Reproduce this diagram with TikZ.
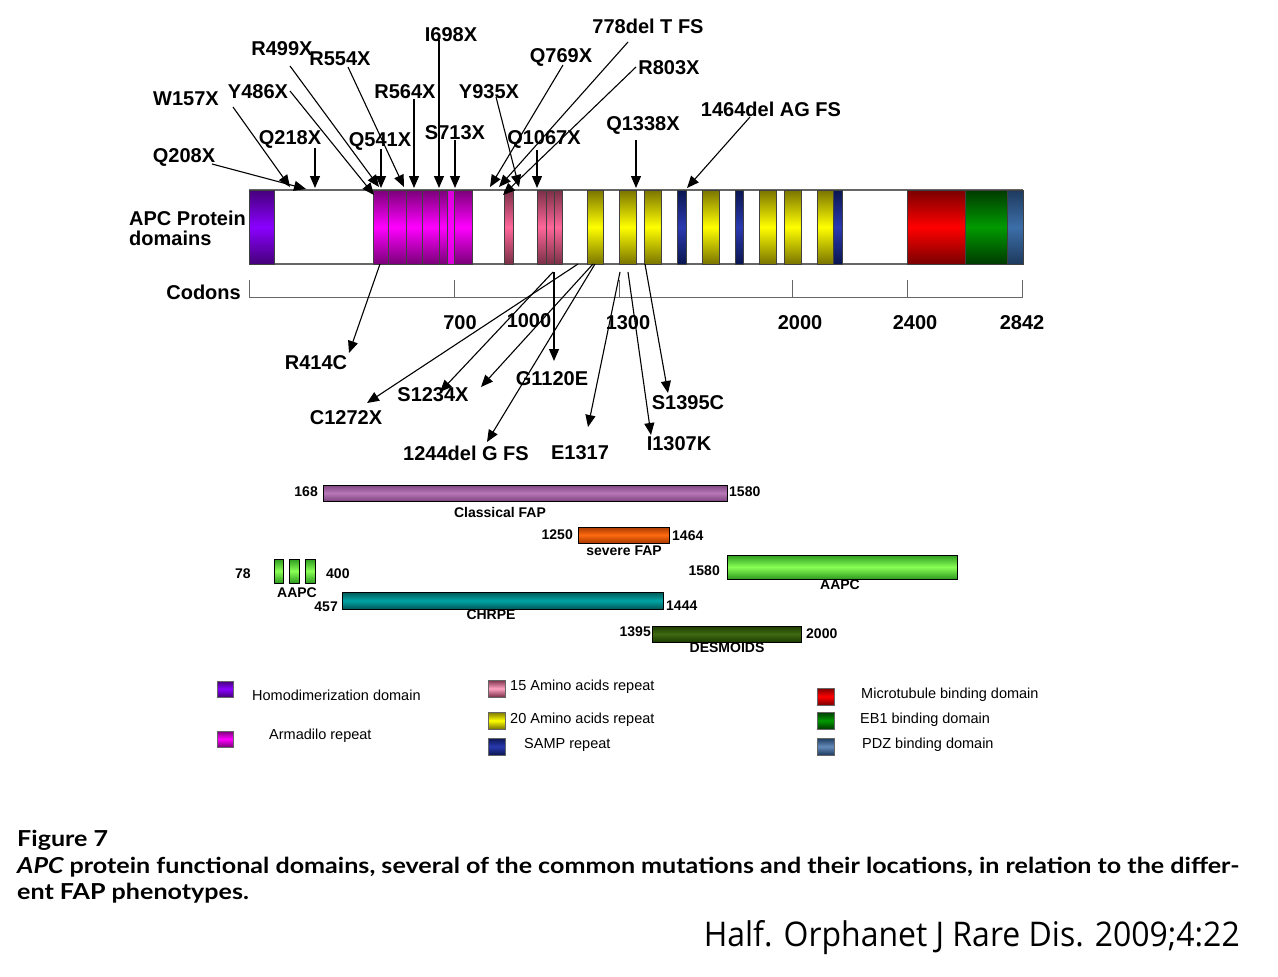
\documentclass[tikz,border=0pt]{standalone}
\usepackage{fontspec}
\setmainfont{Liberation Sans}
\newfontfamily\capfont[FakeStretch=1.14]{Lato}
\newfontfamily\citefont[FakeStretch=0.94]{Open Sans}
\usetikzlibrary{arrows.meta}
\definecolor{purpD}{HTML}{45007A}\definecolor{purpL}{HTML}{8A00FF}
\definecolor{magD}{HTML}{7A0078}\definecolor{magL}{HTML}{FF00FF}
\definecolor{pinkD}{HTML}{7A3048}\definecolor{pinkL}{HTML}{FF6699}
\definecolor{yelD}{HTML}{7A7400}\definecolor{yelL}{HTML}{FFFF00}
\definecolor{sampD}{HTML}{0A1650}\definecolor{sampL}{HTML}{2A3AB0}
\definecolor{redD}{HTML}{7A0000}\definecolor{redL}{HTML}{FF0000}
\definecolor{grnD}{HTML}{003A00}\definecolor{grnL}{HTML}{009A00}
\definecolor{pdzD}{HTML}{1E3A5E}\definecolor{pdzL}{HTML}{3C6EA8}
\definecolor{classD}{HTML}{7E4680}\definecolor{classL}{HTML}{B877B8}
\definecolor{sevD}{HTML}{A83A00}\definecolor{sevL}{HTML}{FF6A10}
\definecolor{aapcD}{HTML}{2E9A1E}\definecolor{aapcL}{HTML}{88FF55}
\definecolor{chrD}{HTML}{005858}\definecolor{chrL}{HTML}{00A4A4}
\definecolor{desD}{HTML}{1C3A00}\definecolor{desL}{HTML}{3F6A12}
\definecolor{barline}{HTML}{666666}
\begin{document}
\begin{tikzpicture}[x=1pt,y=-1pt,
  lab/.style={font=\bfseries\fontsize{20}{22}\selectfont, inner sep=0, anchor=center},
  sm/.style={font=\bfseries\fontsize{14}{16}\selectfont, inner sep=0},
  leg/.style={font=\fontsize{14.5}{16}\selectfont, inner sep=0, anchor=west},
  arr/.style={-{Triangle[length=12pt,width=10pt]}, line width=1.1pt, black},
  dom/.style 2 args={draw=black!75, line width=0.7pt, top color=#1, bottom color=#1, middle color=#2},
  fap/.style 2 args={draw=black, line width=0.8pt, top color=#1, bottom color=#1, middle color=#2},
  legsq/.style 2 args={draw=black!60, line width=0.6pt, top color=#1, bottom color=#1, middle color=#2},
  capt/.style={anchor=west, inner sep=0, font=\capfont\bfseries\fontsize{22}{26}\selectfont},
]
\useasboundingbox (0,0) rectangle (1278,977);
\fill[white] (0,0) rectangle (1278,977);

% ---------- protein bar ----------
\draw[barline, line width=1.2pt] (249,190) -- (1023,190);
\draw[barline, line width=1.2pt] (249,264) -- (1023,264);
\path[dom={purpD}{purpL}] (249,190) rectangle (274,264);
\foreach \a/\b in {373/388,388/406,406/422,422/439,439/447,454/472}
  \path[dom={magD}{magL}] (\a,190) rectangle (\b,264);
\path[dom={magL!85!black}{magL}] (447,190) rectangle (454,264);
\foreach \a/\b in {504/513,537/546,546/554,554/562}
  \path[dom={pinkD}{pinkL}] (\a,190) rectangle (\b,264);
\foreach \a/\b in {587/603,619/636,644/661,702/719,759/776,784/801,817/833}
  \path[dom={yelD}{yelL}] (\a,190) rectangle (\b,264);
\foreach \a/\b in {677/686,735/743,833/842}
  \path[dom={sampD}{sampL}] (\a,190) rectangle (\b,264);
\path[dom={redD}{redL}] (907,190) rectangle (965,264);
\path[dom={grnD}{grnL}] (965,190) rectangle (1007,264);
\path[dom={pdzD}{pdzL}] (1007,190) rectangle (1023,264);

\node[lab, anchor=west, align=left] (apclab) at (129,228) {APC Protein\\[-2pt]domains};

% ---------- codon scale ----------
\node[lab, anchor=east] (codons) at (241,292) {Codons};
\draw[barline, line width=1pt] (249,297) -- (1023,297);
\foreach \x in {249,454,619,792,907,1022}
  \draw[barline, line width=1pt] (\x,280) -- (\x,297);
\node[lab] (c700) at (460,323) {700};
\node[lab] (c1000) at (529,321) {1000};
\node[lab] (c1300) at (628,323) {1300};
\node[lab] (c2000) at (800,323) {2000};
\node[lab] (c2400) at (915,323) {2400};
\node[lab] (c2842) at (1022,323) {2842};

% ---------- top mutation labels ----------
\node[lab] (W157X) at (186,99) {W157X};
\node[lab] (Y486X) at (258,92) {Y486X};
\node[lab] (R499X) at (282,49) {R499X};
\node[lab] (R554X) at (340,59) {R554X};
\node[lab] (I698X) at (451,35) {I698X};
\node[lab] (R564X) at (405,92) {R564X};
\node[lab] (Y935X) at (489,92) {Y935X};
\node[lab] (Q769X) at (561,57) {Q769X};
\node[lab] (del778) at (648,26) {778del T FS};
\node[lab] (R803X) at (669,68) {R803X};
\node[lab] (Q208X) at (184,157) {Q208X};
\node[lab] (Q218X) at (290,139) {Q218X};
\node[lab] (Q541X) at (380,141) {Q541X};
\node[lab] (S713X) at (455,133) {S713X};
\node[lab] (Q1067X) at (544,139) {Q1067X};
\node[lab] (Q1338X) at (643,125) {Q1338X};
\node[lab] (del1464) at (771,109) {1464del AG FS};

% top arrows: start / tip coordinates
\foreach \n/\sx/\sy/\tx/\ty in {
  W157X/233/107/290/187, Q208X/212/164/306/189, Q218X/315/148/315/188,
  Y486X/290/91/374/195, R499X/290/66/379/187, Q541X/381/149/381/188,
  R554X/348/67/404/187, R564X/414/99/414/188, I698X/439/40/439/188,
  S713X/455/140/455/188, Y935X/496/97/519/187, Q1067X/537/150/537/188,
  Q769X/563/65/490/187, del778/628/42/499/187, R803X/636/67/503/195,
  Q1338X/636/140/636/188, del1464/750/117/687/188}
{
  \coordinate (s\n) at (\sx,\sy);
  \coordinate (t\n) at (\tx,\ty);
  \draw[arr] (s\n) -- (t\n);
}

% ---------- bottom mutation labels ----------
\node[lab] (R414C) at (316,363) {R414C};
\node[lab] (C1272X) at (346,418) {C1272X};
\node[lab] (S1234X) at (433,395) {S1234X};
\node[lab] (G1120E) at (552,379) {G1120E};
\node[lab] (del1244) at (466,453) {1244del G FS};
\node[lab] (E1317) at (580,453) {E1317};
\node[lab] (I1307K) at (679,444) {I1307K};
\node[lab] (S1395C) at (688,403) {S1395C};

\foreach \n/\sx/\sy/\tx/\ty in {
  R414C/380/264/349/353, C1272X/578/264/367/403, S1234X/553/272/440/392,
  G1120E/554/272/554/361, extra/593/264/481/387, del1244/595/264/487/442,
  E1317/620/272/588/427, I1307K/628/272/651/435, S1395C/645/264/668/393}
{
  \coordinate (bs\n) at (\sx,\sy);
  \coordinate (bt\n) at (\tx,\ty);
  \draw[arr] (bs\n) -- (bt\n);
}

% ---------- FAP phenotype bars ----------
\path[fap={classD}{classL}] (323,485) rectangle (727,501);
\node[sm, anchor=east] (n168) at (318,492) {168};
\node[sm, anchor=west] (n1580a) at (729,492) {1580};
\node[sm] (classical) at (500,512) {Classical FAP};

\path[fap={sevD}{sevL}] (578,527) rectangle (669,543);
\node[sm, anchor=east] (n1250) at (573,535) {1250};
\node[sm, anchor=west] (n1464) at (672,536) {1464};
\node[sm] (severe) at (624,551) {severe FAP};

\foreach \a/\b in {274/283,289/299,305/315}
  \path[fap={aapcD}{aapcL}] (\a,559) rectangle (\b,583);
\node[sm] (n78) at (243,574) {78};
\node[sm, anchor=west] (n400) at (326,574) {400};
\node[sm] (aapc1) at (297,593) {AAPC};

\path[fap={aapcD}{aapcL}] (727,555) rectangle (957,579);
\node[sm, anchor=east] (n1580b) at (720,571) {1580};
\node[sm] (aapc2) at (840,585) {AAPC};

\path[fap={chrD}{chrL}] (342,592) rectangle (663,609);
\node[sm, anchor=east] (n457) at (338,607) {457};
\node[sm, anchor=west] (n1444) at (666,606) {1444};
\node[sm] (chrpe) at (491,615) {CHRPE};

\path[fap={desD}{desL}] (652,626) rectangle (801,642);
\node[sm, anchor=east] (n1395) at (651,632) {1395};
\node[sm, anchor=west] (n2000) at (806,634) {2000};
\node[sm] (desmoids) at (727,648) {DESMOIDS};

% ---------- legend ----------
\path[legsq={purpD}{purpL}] (217,681) rectangle (233,697);
\node[leg] (lg1) at (252,695) {Homodimerization domain};
\path[legsq={magD}{magL}] (217,731) rectangle (233,747);
\node[leg] (lg2) at (269,736) {Armadilo repeat};
\path[legsq={pinkD}{pinkL!60!white}] (488,680) rectangle (505,697);
\node[leg] (lg3) at (510,687) {15 Amino acids repeat};
\path[legsq={yelD}{yelL}] (488,712) rectangle (505,729);
\node[leg] (lg4) at (510,720) {20 Amino acids repeat};
\path[legsq={sampD}{sampL}] (488,738) rectangle (505,755);
\node[leg] (lg5) at (524,745) {SAMP repeat};
\path[legsq={redD}{redL}] (817,688) rectangle (834,705);
\node[leg] (lg6) at (861,695) {Microtubule binding domain};
\path[legsq={grnD}{grnL}] (817,712) rectangle (834,729);
\node[leg] (lg7) at (860,720) {EB1 binding domain};
\path[legsq={pdzD}{pdzL!80!white}] (817,738) rectangle (834,755);
\node[leg] (lg8) at (862,745) {PDZ binding domain};

% ---------- caption ----------
\node[capt] (fig) at (17,840) {Figure 7};
\node[capt] (cap1) at (17,867) {\itshape APC\upshape{} protein functional domains, several of the common mutations and their locations, in relation to the differ-};
\node[capt] (cap2) at (17,893) {ent FAP phenotypes.};
\node[anchor=east, inner sep=0, font=\citefont\fontsize{34}{38}\selectfont] (cite) at (1240,938) {Half. Orphanet J Rare Dis. 2009;4:22};
\end{tikzpicture}
\end{document}
